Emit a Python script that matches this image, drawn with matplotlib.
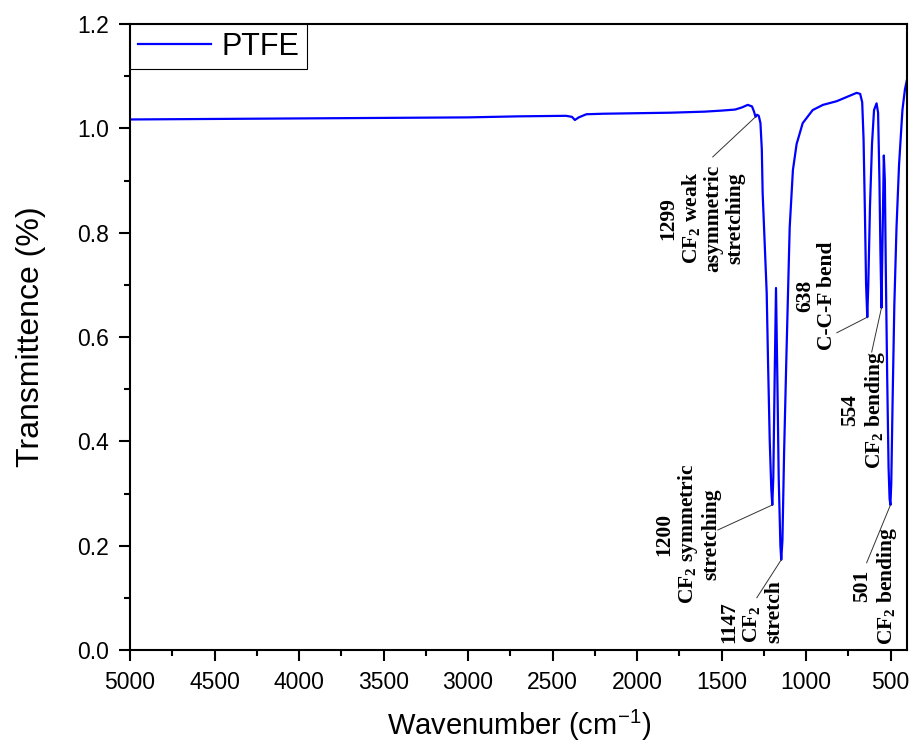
import numpy as np
import matplotlib
matplotlib.use('Agg')
import matplotlib.pyplot as plt

# FTIR spectrum of PTFE (wavenumber in cm-1, transmittance)
wavenumber = [5000, 4500, 4000, 3500, 3000, 2700, 2420, 2385, 2368, 2345, 2300, 2200,
              2000, 1800, 1700, 1600, 1500, 1420, 1380, 1345, 1320, 1308, 1299, 1290,
              1280, 1270, 1262, 1257, 1245, 1233, 1225, 1215, 1206, 1200, 1194, 1186,
              1178, 1170, 1162, 1152, 1147, 1140, 1130, 1117, 1097, 1078, 1056, 1020,
              961, 900, 819, 760, 701, 680, 668, 660, 652, 645, 638, 632, 622, 610,
              598, 583, 574, 566, 560, 554, 548, 540, 534, 528, 520, 512, 506, 501,
              496, 488, 478, 465, 450, 430, 415, 400]
transmittance = [1.017, 1.018, 1.019, 1.020, 1.021, 1.023, 1.024, 1.022, 1.016, 1.021, 1.027, 1.028,
                 1.029, 1.030, 1.031, 1.032, 1.034, 1.036, 1.040, 1.045, 1.042, 1.032, 1.022, 1.026,
                 1.024, 1.010, 0.960, 0.876, 0.780, 0.684, 0.550, 0.400, 0.310, 0.278, 0.330, 0.520,
                 0.694, 0.520, 0.330, 0.200, 0.173, 0.210, 0.380, 0.556, 0.810, 0.920, 0.970, 1.010,
                 1.035, 1.045, 1.052, 1.060, 1.068, 1.066, 1.050, 0.980, 0.840, 0.700, 0.638, 0.700,
                 0.850, 0.970, 1.035, 1.048, 1.030, 0.900, 0.760, 0.656, 0.780, 0.948, 0.900, 0.720,
                 0.520, 0.350, 0.290, 0.278, 0.320, 0.480, 0.660, 0.810, 0.930, 1.035, 1.075, 1.098]

# band assignments: wavenumber, label, text anchor (wn, T), line start (wn, T), alignment
peaks = [1299, 1200, 1147, 638, 554, 501]
labels = ['1299\n$\\mathbf{CF_2}$ weak\nasymmetric\nstretching',
          '1200\n$\\mathbf{CF_2}$ symmetric\nstretching',
          '1147\n$\\mathbf{CF_2}$\nstretch',
          '638\nC-C-F bend',
          '554\n$\\mathbf{CF_2}$ bending',
          '501\n$\\mathbf{CF_2}$ bending']
text_pos = [(1618, 0.828), (1700, 0.222), (1322, 0.013), (943, 0.679), (660, 0.460), (589, 0.123)]
line_start = [(1553, 0.945), (1523, 0.230), (1292, 0.100), (819, 0.608), (612, 0.571), (642, 0.167)]
text_va = ['center', 'center', 'bottom', 'center', 'center', 'center']
text_ma = ['center', 'center', 'left', 'center', 'center', 'center']

plt.rcParams['font.family'] = 'Liberation Sans'
plt.rcParams['mathtext.fontset'] = 'custom'
plt.rcParams['mathtext.rm'] = 'Liberation Sans'
plt.rcParams['mathtext.bf'] = 'Liberation Serif:bold'

fig = plt.figure(figsize=(9.15, 7.5), dpi=100)
ax = fig.add_axes([0.1421, 0.1333, 0.8497, 0.8347])

ax.plot(wavenumber, transmittance, color='#0000ff', lw=1.6, label='PTFE')

wn_rev = np.array(wavenumber)[::-1]
tr_rev = np.array(transmittance)[::-1]
for i in range(len(peaks)):
    y_peak = np.interp(peaks[i], wn_rev, tr_rev)
    ax.annotate('', xy=(peaks[i], y_peak), xytext=line_start[i],
                arrowprops=dict(arrowstyle='-', color='#333333', lw=0.7,
                                shrinkA=0, shrinkB=0))
    ax.text(text_pos[i][0], text_pos[i][1], labels[i], rotation=90,
            ha='center', va=text_va[i], multialignment=text_ma[i],
            family='Liberation Serif', fontweight='bold', fontsize=15.5,
            linespacing=1.12)

ax.set_xlim(5000, 400)
ax.set_ylim(0, 1.2)
ax.set_xticks(np.arange(5000, 499, -500))
ax.set_xticks(np.arange(4750, 399, -500), minor=True)
ax.set_yticks(np.arange(0, 1.21, 0.2))
ax.set_yticks(np.arange(0.1, 1.2, 0.2), minor=True)
ax.yaxis.set_major_formatter(matplotlib.ticker.FormatStrFormatter('%.1f'))

ax.tick_params(which='major', direction='out', length=8, width=1.5, labelsize=16.5, pad=7)
ax.tick_params(which='minor', direction='out', length=4, width=1.5)
ax.tick_params(top=False, right=False)
for s in ax.spines.values():
    s.set_linewidth(1.5)

ax.set_xlabel('Wavenumber (cm$^{-1}$)', fontsize=21)
ax.set_ylabel('Transmittence (%)', fontsize=23)
ax.xaxis.set_label_coords(0.5, -0.093)
ax.yaxis.set_label_coords(-0.108, 0.5)

leg = ax.legend(loc='upper left', fontsize=22, borderaxespad=0, borderpad=0.25,
                handlelength=2.4, handletextpad=0.33, fancybox=False, framealpha=1)
leg.get_frame().set_edgecolor('black')
leg.get_frame().set_linewidth(0.8)

plt.savefig('out.png', dpi=100)
